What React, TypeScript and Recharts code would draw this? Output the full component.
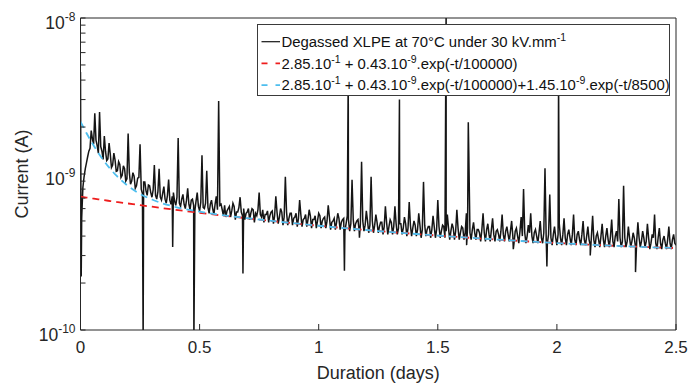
import { Legend, Line, LineChart, XAxis, YAxis } from 'recharts';

const FONT = '"Liberation Sans", Arial, sans-serif';
const INK = '#262626';
const UNIT = 1e-10; // values below are in units of 1e-10 A

// measured current, one value every 0.01 day (units of 1e-10 A)
const gridStep = 0.01;
const currentGrid = [
  45, 8.2, 10.8, 12.9, 14.6, 16.8, 24.5, 15.2, 25.0, 14.0,
  17.5, 12.2, 15.8, 11.0, 13.6, 10.4, 12.0, 9.5, 11.3, 9.0,
  18.2, 8.6, 10.2, 8.1, 9.4, 15.5, 7.5, 8.9, 7.3, 8.4,
  7.1, 11.4, 6.9, 10.8, 6.8, 8.3, 6.5, 9.2, 6.4, 7.6,
  6.3, 17.0, 6.2, 7.4, 6.0, 8.1, 5.9, 6.9, 5.8, 7.6,
  5.8, 13.2, 6.0, 10.5, 5.6, 6.8, 5.5, 7.2, 29.4, 6.4,
  5.4, 5.3, 6.0, 5.3, 6.5, 5.1, 5.7, 7.1, 5.4, 5.1,
  5.7, 5.1, 6.0, 4.9, 5.4, 7.6, 5.3, 4.9, 5.5, 4.9,
  5.7, 4.8, 7.2, 4.8, 6.0, 4.7, 9.6, 4.7, 5.6, 4.7,
  5.3, 4.6, 6.8, 4.6, 5.2, 4.6, 5.9, 4.5, 5.1, 4.5,
  5.6, 4.5, 5.2, 4.5, 6.3, 4.4, 5.0, 4.4, 5.6, 4.4,
  5.1, 4.3, 5.4, 4.3, 9.2, 4.3, 5.0, 4.3, 12.0, 4.3,
  5.8, 4.2, 9.6, 4.2, 5.5, 4.2, 4.9, 4.1, 6.2, 4.1,
  5.1, 4.1, 6.2, 4.1, 4.8, 4.1, 5.3, 4.0, 6.6, 4.0,
  5.0, 4.0, 5.6, 3.9, 8.9, 4.0, 4.6, 3.9, 5.4, 3.9,
  6.8, 3.9, 4.7, 3.9, 5.5, 3.8, 4.8, 3.8, 5.9, 3.8,
  4.6, 3.8, 5.6, 14.0, 3.8, 4.9, 3.8, 4.4, 3.7, 5.6,
  3.7, 4.8, 3.7, 5.2, 3.7, 4.4, 3.7, 5.5, 3.7, 4.6,
  3.7, 5.0, 3.6, 4.5, 3.6, 5.3, 8.0, 3.6, 4.7, 5.6,
  3.6, 4.4, 3.6, 5.0, 3.6, 10.9, 3.6, 7.4, 3.5, 4.6,
  3.5, 4.8, 3.5, 5.2, 3.5, 4.4, 3.5, 5.5, 3.5, 4.3,
  3.5, 5.0, 3.5, 4.6, 3.5, 5.4, 3.4, 4.2, 3.4, 4.8,
  3.4, 4.5, 3.4, 5.1, 3.4, 4.3, 6.9, 3.4, 8.4, 3.4,
  4.6, 3.4, 4.2, 3.4, 4.9, 3.4, 4.3, 3.4, 4.8, 3.3,
  4.1, 5.5, 3.3, 4.5, 3.3, 4.0, 3.3, 4.6, 3.3, 4.1,
  3.5,
];

// samples half-way between the grid values (t = 0.005 + 0.01*i)
const currentHalf = [
  5.2, 9.6, 11.8, 14.0, 19.0, 15.5, 16.5, 13.6, 15.0, 12.4,
  14.0, 12.5, 13.4, 11.4, 12.3, 10.5, 11.5, 9.8, 10.8, 9.3,
  10.2, 9.0, 9.7, 8.4, 9.5, 8.0, 8.9, 7.8, 8.5, 7.6,
  7.9, 7.3, 7.7, 7.1, 7.5, 6.9, 7.3, 6.8, 7.2, 6.7,
  7.1, 6.5, 6.9, 6.4, 6.8, 6.4, 6.8, 6.3, 6.7, 6.2,
  6.6, 6.1, 6.5, 6.1, 6.4, 6.0, 6.4, 5.9, 6.3, 5.9,
  6.3, 5.8, 6.2, 5.8, 6.2, 5.7, 6.1, 5.7, 6.0, 5.6,
  6.0, 5.6, 5.9, 5.6, 5.9, 5.5, 5.9, 5.5, 5.8, 5.4,
  5.8, 5.4, 5.7, 5.3, 5.7, 5.3, 5.7, 5.2, 5.6, 5.2,
  5.6, 5.2, 5.5, 5.1, 5.5, 5.1, 5.4, 5.1, 5.4, 5.0,
  5.4, 5.0, 5.3, 5.0, 5.3, 4.9, 5.2, 4.9, 5.2, 4.9,
  5.2, 4.8, 5.1, 4.8, 5.1, 4.8, 5.1, 4.8, 5.0, 4.7,
  5.0, 4.7, 5.0, 4.7, 4.9, 4.6, 4.9, 4.6, 4.9, 4.6,
  4.9, 4.6, 4.8, 4.5, 4.8, 4.5, 4.8, 4.5, 4.7, 4.5,
  4.7, 4.4, 4.7, 4.4, 4.7, 4.4, 4.6, 4.4, 4.6, 4.4,
  4.6, 4.3, 4.6, 4.3, 4.5, 4.3, 4.5, 4.3, 4.5, 4.2,
  4.5, 4.2, 4.5, 4.2, 4.4, 4.2, 4.4, 4.2, 4.4, 4.2,
  4.4, 4.1, 4.4, 4.1, 4.3, 4.1, 4.3, 4.1, 4.3, 4.1,
  4.3, 4.0, 4.3, 4.0, 4.3, 4.0, 4.2, 4.0, 4.2, 4.0,
  4.2, 4.0, 4.2, 3.9, 4.2, 3.9, 4.1, 3.9, 4.1, 3.9,
  4.1, 3.9, 4.1, 3.9, 4.1, 3.9, 4.1, 3.8, 4.1, 3.8,
  4.1, 3.8, 4.0, 3.8, 4.0, 3.8, 4.0, 3.8, 4.0, 3.8,
  4.0, 3.8, 4.0, 3.7, 4.0, 3.7, 3.9, 3.7, 3.9, 3.7,
  3.9, 3.7, 3.9, 3.7, 3.9, 3.7, 3.9, 3.7, 3.9, 3.6,
  3.9, 3.6, 3.9, 3.6, 3.8, 3.6, 3.8, 3.6, 3.8, 3.6,
];

// isolated spikes between samples
const spikeTimes = [0.003, 0.263, 0.387, 0.476, 0.682, 1.108, 1.124, 1.171, 1.339, 1.535, 1.621, 1.628, 1.817, 1.958, 2.007, 2.14, 2.33];
const spikeValues = [2.2, 0.8, 3.4, 0.8, 2.3, 2.4, 45, 3.9, 30, 120, 3.5, 21.5, 3.3, 2.55, 40, 3.0, 2.35];

// fitted curves
const fitTimes = [0, 0.025, 0.05, 0.075, 0.1, 0.125, 0.15, 0.2, 0.25, 0.3, 0.4, 0.5, 0.75, 1, 1.25, 1.5, 1.75, 2, 2.25, 2.5];
const slowFit = [7.15, 7.06, 6.97, 6.88, 6.79, 6.71, 6.63, 6.47, 6.31, 6.17, 5.89, 5.64, 5.10, 4.66, 4.31, 4.03, 3.80, 3.61, 3.46, 3.35];
const twoExpFit = [21.65, 18.31, 15.69, 13.65, 12.04, 10.78, 9.79, 8.37, 7.45, 6.86, 6.14, 5.73, 5.11, 4.66, 4.31, 4.03, 3.80, 3.61, 3.46, 3.35];

const durationTicks = [0, 0.5, 1, 1.5, 2, 2.5];
const currentTicks = [
  1e-10, 2e-10, 3e-10, 4e-10, 5e-10, 6e-10, 7e-10, 8e-10, 9e-10,
  1e-9, 2e-9, 3e-9, 4e-9, 5e-9, 6e-9, 7e-9, 8e-9, 9e-9, 1e-8,
];

const legendLabels = [
  'Degassed XLPE at 70°C under 30 kV.mm^{-1}',
  '2.85.10^{-1} + 0.43.10^{-9}.exp(-t/100000)',
  '2.85.10^{-1} + 0.43.10^{-9}.exp(-t/100000)+1.45.10^{-9}.exp(-t/8500)',
];

const blackPoints = [
  ...currentGrid.map((v, i) => ({ t: i * gridStep, current: v * UNIT })),
  ...currentHalf.map((v, i) => ({ t: (i + 0.5) * gridStep, current: v * UNIT })),
  ...spikeTimes.map((t, i) => ({ t, current: spikeValues[i] * UNIT })),
].sort((a, b) => a.t - b.t);
const slowPoints = fitTimes.map((t, i) => ({ t, current: slowFit[i] * UNIT }));
const twoExpPoints = fitTimes.map((t, i) => ({ t, current: twoExpFit[i] * UNIT }));

const series = [
  { color: '#151515', dash: undefined as string | undefined },
  { color: '#ee1d1d', dash: '6 8' },
  { color: '#4dbeee', dash: '6 8' },
];

function rich(label: string, supSize: number, rise: number) {
  const parts = label.split(/\^\{([^}]*)\}/);
  let shift = 0;
  const out: any[] = [];
  parts.forEach((p, k) => {
    if (p === '') return;
    const sup = k % 2 === 1;
    const target = sup ? -rise : 0;
    out.push(
      <tspan key={k} dy={target - shift} fontSize={sup ? supSize : undefined}>
        {p}
      </tspan>
    );
    shift = target;
  });
  return out;
}

const XTick = (props: any) => {
  const { x, y, payload } = props;
  return (
    <text x={x} y={y + 23} textAnchor="middle" fontSize={17} fill={INK} fontFamily={FONT}>
      {payload.value}
    </text>
  );
};

const YTick = (props: any) => {
  const { x, y, payload } = props;
  const e = Math.log10(payload.value);
  const k = Math.round(e);
  if (Math.abs(e - k) > 1e-6) return <g />;
  return (
    <text x={x} y={y + 10.5} textAnchor="end" fontSize={17.5} fill={INK} fontFamily={FONT}>
      {rich(`10^{${k}}`, 12, 8)}
    </text>
  );
};

const YTitle = (props: any) => {
  const vb = props.viewBox;
  const cx = vb.x + 27.5;
  const cy = vb.y + vb.height / 2;
  return (
    <text x={cx} y={cy} transform={`rotate(-90 ${cx} ${cy})`} textAnchor="middle" fontSize={18} fill={INK} fontFamily={FONT}>
      Current (A)
    </text>
  );
};

const XTitle = (props: any) => {
  const vb = props.viewBox;
  return (
    <text x={vb.x + vb.width / 2} y={vb.y + vb.height - 6} textAnchor="middle" fontSize={18} fill={INK} fontFamily={FONT}>
      Duration (days)
    </text>
  );
};

const LegendBox = () => (
  <svg width={414} height={73} style={{ display: 'block' }}>
    <rect x={0.5} y={0.5} width={412} height={71} fill="#fff" stroke="#3a3a3a" />
    {legendLabels.map((label, i) => {
      const cy = 17.7 + i * 21.7;
      return (
        <g key={i}>
          <line x1={4.5} x2={23} y1={cy} y2={cy} stroke={series[i].color} strokeWidth={i === 0 ? 1.2 : 1.8} strokeDasharray={series[i].dash} />
          <text x={24.5} y={cy + 5.3} fontSize={14.9} fill="#111" fontFamily={FONT}>
            {rich(label, 10.5, 6)}
          </text>
        </g>
      );
    })}
  </svg>
);

export default function App() {
  return (
    <div style={{ position: 'absolute', left: 0, top: 0, background: '#fff' }}>
      <LineChart width={688} height={385} margin={{ top: 17, right: 11, bottom: 0, left: 0 }}>
        <XAxis
          xAxisId="b"
          type="number"
          dataKey="t"
          domain={[0, 2.5]}
          ticks={durationTicks}
          interval={0}
          allowDataOverflow
          height={55}
          tickSize={-6}
          tickMargin={6}
          tick={<XTick />}
          axisLine={{ stroke: INK }}
          tickLine={{ stroke: INK }}
          label={<XTitle />}
        />
        <XAxis
          xAxisId="t"
          orientation="top"
          type="number"
          dataKey="t"
          domain={[0, 2.5]}
          ticks={durationTicks}
          interval={0}
          allowDataOverflow
          height={1}
          tickSize={-6}
          tick={false}
          axisLine={{ stroke: INK }}
          tickLine={{ stroke: INK }}
        />
        <YAxis
          yAxisId="l"
          scale="log"
          domain={[1e-10, 1e-8]}
          ticks={currentTicks}
          interval={0}
          allowDataOverflow
          width={80.5}
          tickSize={-5}
          tickMargin={10}
          tick={<YTick />}
          axisLine={{ stroke: INK }}
          tickLine={{ stroke: INK }}
          label={<YTitle />}
        />
        <YAxis
          yAxisId="r"
          orientation="right"
          scale="log"
          domain={[1e-10, 1e-8]}
          ticks={currentTicks}
          interval={0}
          allowDataOverflow
          width={1}
          tickSize={-5}
          tick={false}
          axisLine={{ stroke: INK }}
          tickLine={{ stroke: INK }}
        />
        <Line
          xAxisId="b"
          yAxisId="l"
          data={blackPoints}
          dataKey="current"
          type="linear"
          stroke={series[0].color}
          strokeWidth={1.5}
          dot={false}
          isAnimationActive={false}
        />
        <Line
          xAxisId="b"
          yAxisId="r"
          data={slowPoints}
          dataKey="current"
          type="monotone"
          stroke={series[1].color}
          strokeWidth={1.8}
          strokeDasharray="7 5"
          dot={false}
          isAnimationActive={false}
        />
        <Line
          xAxisId="t"
          yAxisId="r"
          data={twoExpPoints}
          dataKey="current"
          type="monotone"
          stroke={series[2].color}
          strokeWidth={1.8}
          strokeDasharray="7 5"
          dot={false}
          isAnimationActive={false}
        />
        <Legend
          layout="horizontal"
          verticalAlign="middle"
          align="center"
          wrapperStyle={{ position: 'absolute', left: 257, top: 24, width: 414, height: 73 }}
          content={<LegendBox />}
        />
      </LineChart>
    </div>
  );
}
